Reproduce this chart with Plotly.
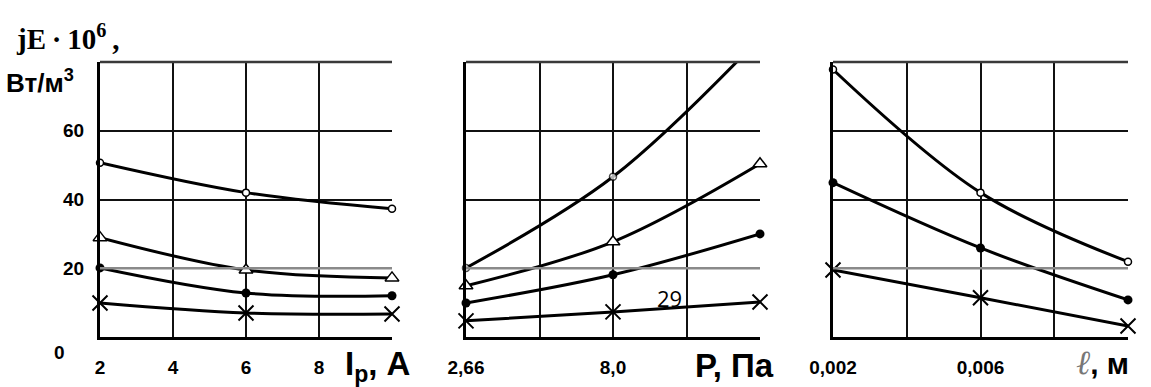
import plotly.graph_objects as go

W, H = 1151, 387

# ---- data ----
ip_x = [2, 6, 10]
ip_circle = [50.7, 42.0, 37.3]
ip_tri = [28.9, 19.5, 17.2]
ip_dot = [20.1, 12.8, 12.0]
ip_cross = [9.9, 7.0, 6.7]

p_x = [2.66, 8.0, 13.34]
p_circle = [20.1, 46.6, 87.0]
p_tri = [14.9, 27.7, 50.4]
p_dot = [9.9, 18.1, 30.0]
p_cross = [4.7, 7.3, 10.2]

l_x = [0.002, 0.006, 0.010]
l_circle = [77.8, 42.0, 21.9]
l_dot = [44.9, 25.9, 10.8]
l_cross = [19.5, 11.4, 3.2]

ip_ticks = [2, 4, 6, 8, 10]
ip_ticktext = ["2", "4", "6", "8", " "]
p_ticks = [2.66, 5.33, 8.0, 10.67, 13.34]
p_ticktext = ["2,66", " ", "8,0", " ", " "]
l_ticks = [0.002, 0.004, 0.006, 0.008, 0.010]
l_ticktext = ["0,002", " ", "0,006", " ", " "]
y_ticks = [20, 40, 60, 80]
y_ticktext = ["20", "40", "60", " "]

# ---- styles ----
LW = 3
MK = {
    "circle": dict(symbol="circle", size=7, color="white", line=dict(color="black", width=1.5)),
    "tri": dict(symbol="triangle-up", size=12, color="white", line=dict(color="black", width=1.5)),
    "dot": dict(symbol="circle", size=9, color="black", line=dict(color="black", width=0)),
    "cross": dict(symbol="x-thin", size=15, color="black", line=dict(color="black", width=2)),
}

fig = go.Figure()

def add(x, y, kind, xa, ya, sizes=None):
    m = dict(MK[kind])
    if sizes is not None:
        m["size"] = sizes
    fig.add_trace(go.Scatter(
        x=x, y=y, mode="lines+markers", xaxis=xa, yaxis=ya,
        line=dict(color="black", width=LW, shape="spline", smoothing=1),
        marker=m, cliponaxis=False, showlegend=False, hoverinfo="skip"))

add(ip_x, ip_circle, "circle", "x", "y")
add(ip_x, ip_tri, "tri", "x", "y")
add(ip_x, ip_dot, "dot", "x", "y")
add(ip_x, ip_cross, "cross", "x", "y")

add(p_x, p_circle, "circle", "x2", "y2", sizes=[7, 7, 0])
add(p_x, p_tri, "tri", "x2", "y2")
add(p_x, p_dot, "dot", "x2", "y2")
add(p_x, p_cross, "cross", "x2", "y2")

add(l_x, l_circle, "circle", "x3", "y3")
add(l_x, l_dot, "dot", "x3", "y3")
add(l_x, l_cross, "cross", "x3", "y3")

ydom = [(H - 337) / H, (H - 62) / H]
doms = [[100 / W, 392 / W], [466 / W, 760 / W], [833 / W, 1128 / W]]
tick_font = dict(family="Liberation Sans, Arial", size=19, color="black", weight="bold")

def xaxis(dom, ticks, text, rng, anchor):
    return dict(domain=dom, range=rng, tickvals=ticks, ticktext=text, showgrid=True,
                gridcolor="#111", gridwidth=1.5, showline=True, linecolor="black",
                linewidth=3, zeroline=False, ticks="", tickfont=tick_font,
                ticklabelstandoff=11, anchor=anchor, fixedrange=True, automargin=False)

def yaxis(anchor, labels):
    return dict(domain=ydom, range=[0, 80], tickvals=y_ticks, ticktext=y_ticktext,
                showticklabels=labels, showgrid=True, gridcolor="#111", gridwidth=1.5,
                showline=True, linecolor="black", linewidth=3, zeroline=False,
                ticks="", tickfont=tick_font, ticklabelstandoff=9, anchor=anchor,
                fixedrange=True, automargin=False)

fig.update_layout(
    width=W, height=H, margin=dict(l=0, r=0, t=0, b=0, autoexpand=False),
    paper_bgcolor="white", plot_bgcolor="white",
    xaxis=xaxis(doms[0], ip_ticks, ip_ticktext, [2, 10], "y"),
    xaxis2=xaxis(doms[1], p_ticks, p_ticktext, [2.66, 13.34], "y2"),
    xaxis3=xaxis(doms[2], l_ticks, l_ticktext, [0.002, 0.010], "y3"),
    yaxis=yaxis("x", True),
    yaxis2=yaxis("x2", False),
    yaxis3=yaxis("x3", False),
)

shapes = []
for xr, yr in [("x", "y"), ("x2", "y2"), ("x3", "y3")]:
    shapes.append(dict(type="line", xref=f"{xr} domain", yref=yr, x0=0, x1=1, y0=20, y1=20,
                       line=dict(color="#8a8a8a", width=2.5), layer="above"))
    shapes.append(dict(type="line", xref=f"{xr} domain", yref=f"{yr} domain", x0=0, x1=1, y0=1, y1=1,
                       line=dict(color="#3a3a3a", width=2.5), layer="above"))
fig.update_layout(shapes=shapes)

def px(x):
    return x / W

def py(y):
    return 1 - y / H

ann = []
ann.append(dict(text="jE\u2009·\u200910<sup>6</sup>\u2009,", x=px(14), y=py(37), xanchor="left", yanchor="middle",
                font=dict(family="Liberation Serif, Times New Roman", size=29, color="black", weight="bold")))
ann.append(dict(text="Вт/м<sup>3</sup>", x=px(4), y=py(81), xanchor="left", yanchor="middle",
                font=dict(family="Liberation Sans, Arial", size=26, color="black", weight="bold")))
ann.append(dict(text="0", x=px(60), y=py(352), xanchor="center", yanchor="middle",
                font=tick_font))
ann.append(dict(text="I<sub>р</sub>, A", x=px(343), y=py(366), xanchor="left", yanchor="middle",
                font=dict(family="Liberation Sans, Arial", size=33, color="black", weight="bold")))
ann.append(dict(text="P, Па", x=px(693), y=py(365), xanchor="left", yanchor="middle",
                font=dict(family="Liberation Sans, Arial", size=33, color="black", weight="bold")))
ann.append(dict(text="<span style='color:#777;font-weight:normal;font-family:DejaVu Serif;font-style:italic;font-size:34px'>ℓ</span>, м",
                x=px(1074), y=py(362), xanchor="left", yanchor="middle",
                font=dict(family="Liberation Sans, Arial", size=30, color="black", weight="bold")))
ann.append(dict(text="29", x=px(669), y=py(298), xanchor="center", yanchor="middle",
                font=dict(family="Open Sans", size=22, color="black")))
for a in ann:
    a.update(xref="paper", yref="paper", showarrow=False)
fig.update_layout(annotations=ann)

fig.write_html("out.html", config={"displayModeBar": False})
